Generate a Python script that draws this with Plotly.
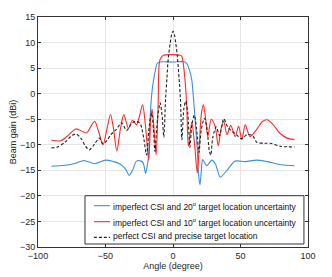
import plotly.graph_objects as go

# Blue: imperfect CSI, 20 deg uncertainty
blue_x = [-90, -80, -72, -66, -58, -50, -44, -39, -35, -32.5, -30, -27, -23.5, -22, -20.3, -19, -18.2,
          -17.6, -16.6, -15.4, -13.4, -11.7, -10, 0, 9, 10.6, 12.3, 13.9, 15.2, 16.4, 17.2, 18, 19, 20, 21,
          22, 25, 28.8, 31.5, 35, 40, 46, 53.5, 62, 70, 80, 90]
blue_y = [-14.2, -14.0, -13.6, -13.1, -13.7, -13.0, -13.3, -13.8, -14.8, -16.0, -15.0, -13.2, -13.2, -13.6, -15.6, -14.0, -12.5,
          -9.0, -3.1, 0.8, 4.1, 5.9, 6.2, 6.2, 6.2, 5.7, 4.5, 2.7, -1.0, -5.1, -8.0, -11.0, -16.0, -17.8, -15.0,
          -12.9, -14.1, -13.0, -13.8, -16.3, -15.0, -13.2, -13.3, -13.0, -13.3, -13.9, -14.1]

# Red: imperfect CSI, 10 deg uncertainty
red_x = [-90, -83, -77, -72, -67, -64, -61, -58, -55, -51.8, -49, -46.3, -44, -41.6, -39, -36.4, -33, -30, -27,
         -24.5, -22.5, -20.5, -18, -16.5, -15.5, -14, -12.5, -11, -9.7, -7.2, 5.2, 6.5, 8.9, 10.2, 11.4, 13.9,
         16, 18, 19.5, 21, 22.5, 24, 25.8, 28.3, 31.2, 33.5, 35.5, 37.6, 40, 42.8, 46, 48.6, 51, 53.5, 57, 62,
         66, 69.7, 74, 79, 84.5, 90]
red_y = [-9.1, -9.2, -8.0, -6.9, -7.4, -7.7, -6.5, -5.4, -7.5, -10.0, -7.0, -4.1, -7.0, -11.2, -7.0, -4.1, -6.8, -5.2, -6.1,
         -4.0, -2.2, -6.0, -13.0, -5.0, -3.0, -7.0, -12.0, -2.0, 6.6, 7.5, 7.5, 7.3, 2.7, -2.5, -10.3, -5.6,
         -10.0, -15.5, -10.0, -4.0, -2.2, -4.5, -8.4, -5.0, -6.4, -10.2, -7.0, -5.4, -8.0, -6.2, -8.4, -6.4, -9.0, -6.1, -8.4, -7.0,
         -5.5, -5.1, -6.0, -7.7, -8.7, -9.0]

# Black dashed: perfect CSI and precise target location
black_x = [-90, -86, -80, -75, -71.6, -68, -65, -62, -58, -54.5, -52, -49, -46, -42, -38, -34.4, -31, -28.3, -25.5,
           -24, -21.5, -19.6, -17.5, -15.8, -14.5, -13.4, -11.5, -9.5, -8, -6.8, -5.5, -4.5, -3.5, -2, -1, 0,
           1, 2, 3.3, 4.5, 5.5, 6.6, 8, 9.4, 11, 12.5, 14, 15.8, 17.5, 19.2, 21, 23.3, 25, 27, 28, 29.5, 32,
           34.5, 37.6, 40.5, 44, 47, 50.5, 55, 59, 62, 68, 72, 79.5, 85, 90]
black_y = [-10.6, -10.5, -9.5, -8.2, -7.9, -8.8, -10.2, -11.0, -9.8, -8.7, -9.8, -9.2, -8.0, -7.0, -5.7, -7.2, -6.0, -5.4, -5.6,
           -6.0, -9.0, -12.0, -6.0, -3.8, -7.0, -11.3, -5.0, -1.8, -4.5, -8.5, -1.0, 3.0, 7.0, 10.0, 11.6, 12.2,
           11.6, 10.0, 7.0, 3.0, -1.0, -9.0, -3.0, -1.5, -4.0, -10.5, -6.0, -4.2, -7.0, -11.5, -7.0, -4.8, -6.5, -11.3, -12.0, -8.5, -6.5,
           -8.2, -4.9, -6.5, -7.4, -8.0, -8.8, -8.0, -8.2, -9.5, -9.7, -9.7, -10.3, -10.4, -10.4]

x_ticks = [-100, -50, 0, 50, 100]
y_ticks = [-30, -25, -20, -15, -10, -5, 0, 5, 10, 15]

names = ["imperfect CSI and 20<sup>o</sup> target location uncertainty",
         "imperfect CSI and 10<sup>o</sup> target location uncertainty",
         "perfect CSI and precise target location"]
colors = ["#3d8fd6", "#ff2a2a", "#222222"]
dashes = ["solid", "solid", "3px,2px"]

FONT = "Liberation Sans, Arial, sans-serif"

fig = go.Figure()
for xs, ys, nm, c, d in [(blue_x, blue_y, names[0], colors[0], dashes[0]),
                         (red_x, red_y, names[1], colors[1], dashes[1]),
                         (black_x, black_y, names[2], colors[2], dashes[2])]:
    fig.add_trace(go.Scatter(x=xs, y=ys, mode="lines", name=nm, showlegend=False,
                             line=dict(color=c, width=1.1, dash=d, shape="spline", smoothing=0.8)))

axis_common = dict(showgrid=True, gridcolor="#e6e6e6", gridwidth=1, zeroline=False,
                   showline=True, linecolor="#333333", linewidth=1, mirror="ticks",
                   ticks="inside", ticklen=3, tickcolor="#333333", automargin=False,
                   tickfont=dict(family=FONT, size=9, color="#262626"))

fig.update_xaxes(range=[-100, 100], tickvals=x_ticks,
                 title=dict(text="Angle (degree)", font=dict(family=FONT, size=9, color="#262626"),
                            standoff=2),
                 **axis_common)
fig.update_yaxes(range=[-30, 15], tickvals=y_ticks,
                 title=dict(text="Beam gain (dBi)", font=dict(family=FONT, size=9, color="#262626"),
                            standoff=1),
                 **axis_common)

# custom legend box (paper coordinates)
lx0, lx1, ly0, ly1 = 0.174, 0.985, 0.013, 0.223
shapes = [dict(type="rect", xref="paper", yref="paper", x0=lx0, x1=lx1, y0=ly0, y1=ly1,
               line=dict(color="#333333", width=1), fillcolor="white", layer="above")]
row_y = [0.1796, 0.110, 0.042]
text_y = [0.177, 0.107, 0.049]
annotations = []
for i in range(3):
    shapes.append(dict(type="line", xref="paper", yref="paper", x0=0.207, x1=0.267,
                       y0=row_y[i], y1=row_y[i], layer="above",
                       line=dict(color=colors[i], width=1.1, dash="3px,2px" if i == 2 else "solid")))
    annotations.append(dict(xref="paper", yref="paper", x=0.269, y=text_y[i],
                            xanchor="left", yanchor="middle", showarrow=False, text=names[i],
                            font=dict(family=FONT, size=8.5, color="#111111")))

fig.update_layout(
    width=324, height=269,
    margin=dict(l=30, r=24, t=9, b=30),
    paper_bgcolor="white", plot_bgcolor="white",
    font=dict(family=FONT, size=8, color="#111111"),
    shapes=shapes, annotations=annotations,
    showlegend=False,
)

fig.write_html("out.html")
